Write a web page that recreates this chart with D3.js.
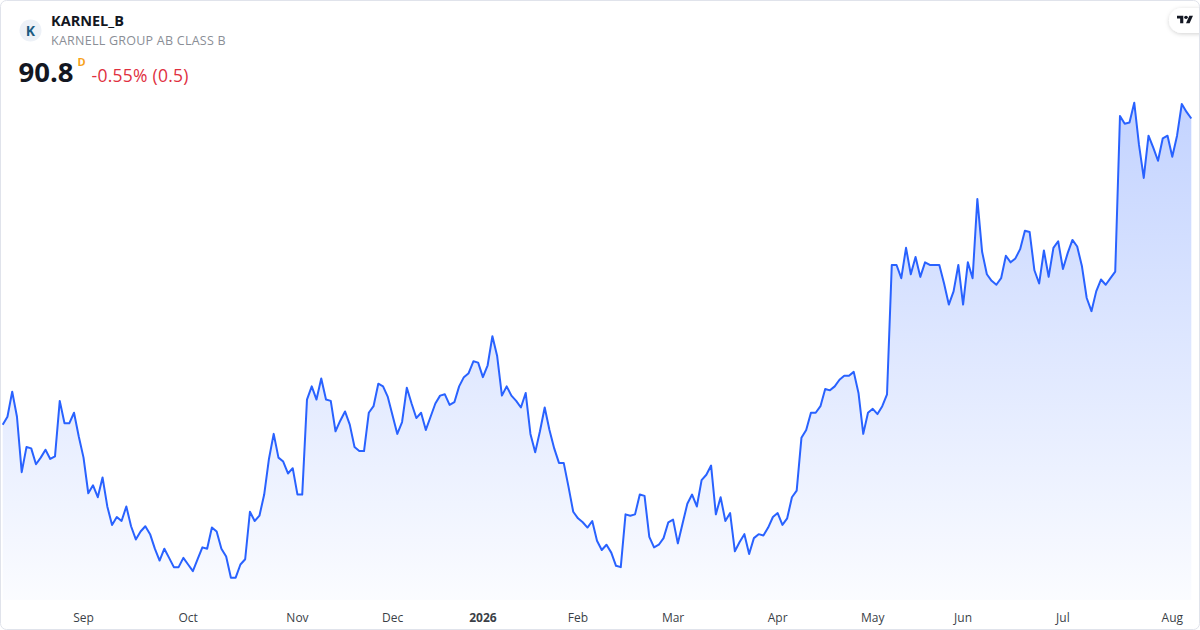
<!DOCTYPE html>
<html>
<head>
<meta charset="utf-8">
<script src="https://cdn.jsdelivr.net/npm/d3@7"></script>
<style>
  body { margin: 0; background: #fff; }
  svg { display: block; font-family: "Open Sans", sans-serif; }
</style>
</head>
<body>
<script>
// daily closes, KARNEL_B, 2025-08-07 .. 2026-08-07
var closes = [
  67.6, 68.2, 70.1, 68.2, 64.0, 65.9, 65.8, 64.6, 65.1, 65.7,
  65.0, 65.2, 69.4, 67.7, 67.7, 68.5, 66.7, 65.1, 62.4, 63.0,
  62.1, 63.6, 61.4, 60.0, 60.6, 60.3, 61.4, 59.9, 58.9, 59.5,
  59.9, 59.3, 58.2, 57.3, 58.2, 57.5, 56.8, 56.8, 57.5, 57.0,
  56.5, 57.4, 58.3, 58.2, 59.8, 59.5, 58.2, 57.6, 56.0, 56.0,
  57.0, 57.4, 61.0, 60.3, 60.7, 62.3, 65.0, 66.9, 65.1, 64.8,
  63.9, 64.3, 62.3, 62.3, 69.5, 70.5, 69.5, 71.1, 69.5, 69.4,
  67.1, 67.9, 68.6, 67.6, 65.9, 65.6, 65.6, 68.5, 69.0, 70.7,
  70.5, 69.7, 68.3, 66.9, 67.8, 70.4, 69.2, 68.1, 68.5, 67.2,
  68.2, 69.2, 69.8, 69.9, 69.1, 69.3, 70.5, 71.2, 71.5, 72.4,
  72.3, 71.2, 72.1, 74.3, 72.8, 69.8, 70.5, 69.8, 69.4, 68.9,
  70.0, 66.9, 65.5, 67.1, 68.9, 67.2, 65.8, 64.7, 64.7, 62.9,
  61.0, 60.5, 60.2, 59.8, 60.3, 58.8, 58.1, 58.5, 57.9, 56.9,
  56.8, 60.8, 60.7, 60.8, 62.3, 62.2, 59.1, 58.3, 58.5, 59.0,
  60.2, 60.4, 58.6, 60.1, 61.6, 62.3, 61.4, 63.4, 63.8, 64.5,
  60.8, 62.1, 60.3, 60.9, 58.0, 58.7, 59.3, 57.8, 59.0, 59.3,
  59.2, 59.8, 60.6, 60.9, 60.0, 60.5, 62.1, 62.6, 66.6, 67.2,
  68.5, 68.5, 69.0, 70.3, 70.2, 70.5, 71.0, 71.3, 71.3, 71.6,
  70.0, 66.9, 68.5, 68.8, 68.4, 69.0, 69.9, 79.7, 79.7, 78.7,
  81.0, 79.0, 80.3, 78.8, 79.9, 79.7, 79.7, 79.7, 78.3, 76.7,
  77.7, 79.7, 76.7, 79.9, 78.7, 84.7, 80.7, 79.0, 78.5, 78.2,
  78.7, 80.4, 79.9, 80.2, 80.9, 82.3, 82.2, 79.3, 78.3, 80.8,
  78.8, 81.0, 81.5, 79.4, 80.6, 81.6, 81.1, 79.6, 77.2, 76.2,
  77.7, 78.6, 78.2, 78.7, 79.2, 91.0, 90.4, 90.5, 92.0, 88.8,
  86.3, 89.5, 88.6, 87.6, 89.3, 89.5, 87.9, 89.5, 91.9, 91.3,
  90.8
];

// Nasdaq Stockholm closed days in the period
var holidays = [
  "2025-12-24", "2025-12-25", "2025-12-26", "2025-12-31",
  "2026-01-01", "2026-01-06", "2026-04-03", "2026-04-06",
  "2026-05-01", "2026-05-14", "2026-06-19"
];
var firstDay = "2025-08-07";

var ticker = "KARNEL_B";
var fullName = "KARNELL GROUP AB CLASS B";
var lastPrice = "90.8";
var interval = "D";
var changeText = "-0.55% (0.5)";

var width = 1200, height = 630;
var plot = { left: 2.7, right: 1191.3, top: 102.7, bottom: 577.7, fillBottom: 600 };

// trading calendar
var parse = d3.timeParse("%Y-%m-%d");
var fmt = d3.timeFormat("%Y-%m-%d");
var dates = [];
var day = parse(firstDay);
while (dates.length < closes.length) {
  var wd = day.getDay();
  if (wd !== 0 && wd !== 6 && holidays.indexOf(fmt(day)) < 0) dates.push(new Date(day));
  day = d3.timeDay.offset(day, 1);
}
var data = closes.map(function(c, i) { return { i: i, date: dates[i], close: c }; });

var svg = d3.select("body").append("svg")
    .attr("width", width)
    .attr("height", height);

var defs = svg.append("defs");

var xScale = d3.scaleLinear()
    .domain([0, data.length - 1])
    .range([plot.left, plot.right]);

var yScale = d3.scaleLinear()
    .domain(d3.extent(closes))
    .range([plot.bottom, plot.top]);

var grad = defs.append("linearGradient")
    .attr("id", "fillGrad")
    .attr("gradientUnits", "userSpaceOnUse")
    .attr("x1", 0).attr("x2", 0)
    .attr("y1", plot.top).attr("y2", plot.fillBottom);
grad.append("stop").attr("offset", 0).attr("stop-color", "#2962ff").attr("stop-opacity", 0.28);
grad.append("stop").attr("offset", 1).attr("stop-color", "#2962ff").attr("stop-opacity", 0.02);

var shadow = defs.append("filter").attr("id", "shadow")
    .attr("x", "-50%").attr("y", "-50%").attr("width", "200%").attr("height", "200%");
shadow.append("feDropShadow")
    .attr("dx", 0).attr("dy", 1).attr("stdDeviation", 2)
    .attr("flood-color", "#000").attr("flood-opacity", 0.18);

// area + line
var area = d3.area()
    .x(function(d) { return xScale(d.i); })
    .y0(plot.fillBottom)
    .y1(function(d) { return yScale(d.close); });

var line = d3.line()
    .x(function(d) { return xScale(d.i); })
    .y(function(d) { return yScale(d.close); });

svg.append("path")
    .datum(data)
    .attr("d", area)
    .attr("fill", "url(#fillGrad)");

svg.append("path")
    .datum(data)
    .attr("d", line)
    .attr("fill", "none")
    .attr("stroke", "#2962ff")
    .attr("stroke-width", 2)
    .attr("stroke-linejoin", "round");

// month ticks at first trading day of each month
var ticks = data.filter(function(d, i) {
  return i > 0 && d.date.getMonth() !== data[i - 1].date.getMonth();
});

svg.append("g")
    .selectAll("text")
    .data(ticks)
    .enter()
    .append("text")
    .attr("x", function(d) { return xScale(d.i); })
    .attr("y", 622)
    .attr("text-anchor", "middle")
    .attr("font-size", 12)
    .attr("fill", "#3b3f47")
    .attr("font-weight", function(d) { return d.date.getMonth() === 0 ? "bold" : "normal"; })
    .text(function(d) {
      return d.date.getMonth() === 0 ? d3.timeFormat("%Y")(d.date) : d3.timeFormat("%b")(d.date);
    });

// header
var head = svg.append("g");
head.append("circle")
    .attr("cx", 30.5).attr("cy", 30.5).attr("r", 11)
    .attr("fill", "#edf1f7");
head.append("text")
    .attr("x", 30.5).attr("y", 35.5)
    .attr("text-anchor", "middle")
    .attr("font-size", 14)
    .attr("font-weight", "bold")
    .attr("fill", "#1d5c82")
    .text("K");
head.append("text")
    .attr("x", 51).attr("y", 26)
    .attr("font-size", 14.5)
    .attr("font-weight", "bold")
    .attr("fill", "#131722")
    .text(ticker);
head.append("text")
    .attr("x", 51).attr("y", 45)
    .attr("font-size", 12.5)
    .attr("letter-spacing", 0.25)
    .attr("fill", "#8a8e96")
    .text(fullName);
head.append("text")
    .attr("x", 18.5).attr("y", 81.5)
    .attr("font-size", 27.5)
    .attr("font-weight", "bold")
    .attr("fill", "#131722")
    .text(lastPrice);
head.append("text")
    .attr("x", 77.5).attr("y", 65.5)
    .attr("font-size", 11)
    .attr("font-weight", "bold")
    .attr("fill", "#f7a21b")
    .text(interval);
head.append("text")
    .attr("x", 91.5).attr("y", 81.5)
    .attr("font-size", 17.5)
    .attr("letter-spacing", 0.25)
    .attr("fill", "#e0303f")
    .text(changeText);

// TradingView badge
var badge = svg.append("g");
badge.append("rect")
    .attr("x", 1169).attr("y", 8)
    .attr("width", 44).attr("height", 25).attr("rx", 12.5)
    .attr("fill", "#fff")
    .attr("filter", "url(#shadow)");
var logo = badge.append("g").attr("transform", "translate(1177,14) scale(0.45,0.42)");
logo.append("path").attr("d", "M14 22H7V11H0V4h14v18zM28 22h-8l7.5-18h8L28 22z").attr("fill", "#131722");
logo.append("circle").attr("cx", 20).attr("cy", 8).attr("r", 4).attr("fill", "#131722");

// card border
svg.append("rect")
    .attr("x", 0.5).attr("y", 0.5)
    .attr("width", width - 1).attr("height", height - 1)
    .attr("rx", 6)
    .attr("fill", "none")
    .attr("stroke", "#e0e3eb");
</script>
</body>
</html>
